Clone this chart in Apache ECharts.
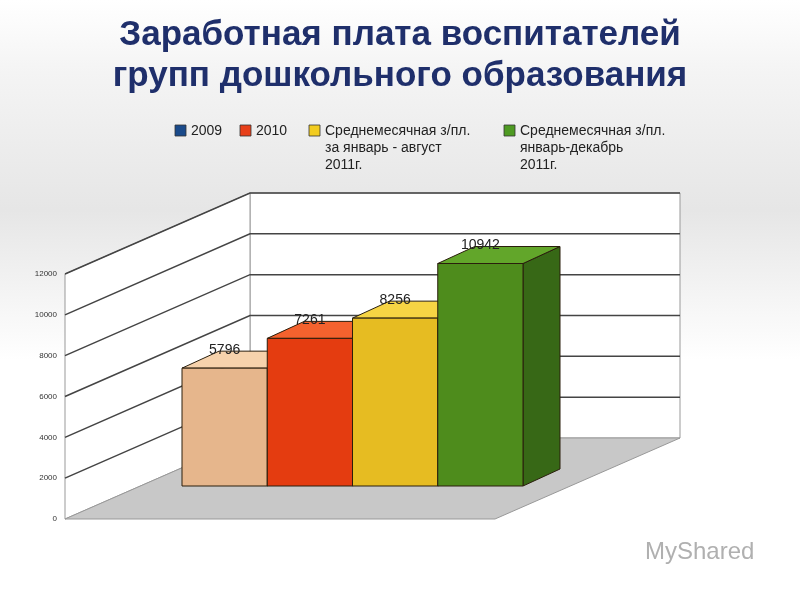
<!DOCTYPE html>
<html><head><meta charset="utf-8">
<script src="https://cdn.jsdelivr.net/npm/echarts@6/dist/echarts.min.js"></script>
<style>html,body{margin:0;padding:0;}#c{width:800px;height:600px;}</style>
</head><body><div id="c"></div>
<script>
const categories = ['2009', '2010', 'Среднемесячная з/пл. за январь - август 2011г.', 'Среднемесячная з/пл. январь-декабрь 2011г.'];
const values = [5796, 7261, 8256, 10942];
const axisTicks = [0, 2000, 4000, 6000, 8000, 10000, 12000];
const legendLabels = ['2009', '2010', 'Среднемесячная з/пл.\nза январь - август\n2011г.', 'Среднемесячная з/пл.\nянварь-декабрь\n2011г.'];
const legendColors = ['#1a4a8a', '#e8401a', '#f2cc20', '#4e9a22'];
const faces = [
  {front:'#e6b68c', top:'#f6d2ac', side:'#c8976c'},
  {front:'#e43c10', top:'#f4622e', side:'#b02a04'},
  {front:'#e6bc22', top:'#f6d444', side:'#bf9812'},
  {front:'#4e8c1c', top:'#62a62a', side:'#376816'}
];
const DX = 37, DY = -17;
const chart = echarts.init(document.getElementById('c'));
const legendX = [175, 240, 309, 504];
const graphic = [];
legendLabels.forEach((t, i) => {
  graphic.push({type:'rect', shape:{x:legendX[i], y:125, width:11, height:11}, style:{fill:legendColors[i], stroke:'#333', lineWidth:0.8}});
  graphic.push({type:'text', x:legendX[i]+16, y:123, style:{text:t, fill:'#222', font:'14px Arial', lineHeight:17}});
});
graphic.push({type:'text', x:645, y:540, style:{text:'MyShared', fill:'#b0b0b0', font:'24px Arial'}});
chart.setOption({
  backgroundColor: {type:'linear', x:0, y:0, x2:0, y2:1, colorStops:[{offset:0,color:'#ffffff'},{offset:0.12,color:'#f4f4f4'},{offset:0.35,color:'#e6e6e6'},{offset:0.6,color:'#ffffff'},{offset:1,color:'#ffffff'}]},
  title: {text:'Заработная плата воспитателей\nгрупп дошкольного образования', left:'center', top:10,
    textStyle:{color:'#1f2f6b', fontSize:35, fontWeight:'bold', fontFamily:'Arial', lineHeight:41}},
  graphic: graphic,
  grid: [
    {left:182, right:277, top:242, bottom:114},
    {left:65, right:120, top:274, bottom:81}
  ],
  xAxis: [
    {type:'category', data:categories, gridIndex:0, show:false},
    {type:'value', gridIndex:1, show:false, min:0, max:1}
  ],
  yAxis: [
    {type:'value', gridIndex:0, min:0, max:12000, show:false},
    {type:'value', gridIndex:1, min:0, max:12000, interval:2000, position:'left',
     axisLine:{show:false}, axisTick:{show:false}, splitLine:{show:false},
     axisLabel:{fontSize:8, color:'#333', fontFamily:'Arial', margin:8, formatter: v => String(v)}}
  ],
  series: [
    {type:'custom', xAxisIndex:1, yAxisIndex:1, z:1, data:axisTicks.map(v=>[0,v]),
     renderItem: function(params, api){
       const p = api.coord([0, api.value(1)]);
       const x0 = p[0], y = p[1];
       const bx = 250, by = y - 81, rx = 680;
       const children = [];
       if (params.dataIndex === 0) {
         const top = api.coord([0, 12000])[1];
         children.push({type:'polygon', shape:{points:[[bx,top-81],[rx,top-81],[rx,by],[bx,by]]}, style:{fill:'#ffffff', stroke:'#999', lineWidth:1}});
         children.push({type:'polygon', shape:{points:[[x0,top],[bx,top-81],[bx,by],[x0,y]]}, style:{fill:'#ffffff', stroke:'#999', lineWidth:1}});
         children.push({type:'polygon', shape:{points:[[x0,y],[bx,by],[rx,by],[rx-185,y]]}, style:{fill:'#c8c8c8', stroke:'#999', lineWidth:1}});
       } else {
         children.push({type:'polyline', shape:{points:[[x0,y],[bx,by],[rx,by]]}, style:{stroke:'#444', lineWidth:1.5, fill:null}});
       }
       return {type:'group', children:children};
     }},
    {type:'custom', xAxisIndex:0, yAxisIndex:0, z:3, data:values.map((v,i)=>[i,v]),
     renderItem: function(params, api){
       const i = api.value(0);
       const top = api.coord([i, api.value(1)]);
       const base = api.coord([i, 0]);
       const w = api.size([1, 0])[0];
       const l = top[0] - w/2, r = top[0] + w/2, t = top[1], b = base[1];
       const f = faces[params.dataIndex];
       const st = {stroke:'#2a1e0c', lineWidth:1};
       return {type:'group', children:[
         {type:'polygon', shape:{points:[[r,t],[r+DX,t+DY],[r+DX,b+DY],[r,b]]}, style:Object.assign({fill:f.side}, st)},
         {type:'polygon', shape:{points:[[l,t],[l+DX,t+DY],[r+DX,t+DY],[r,t]]}, style:Object.assign({fill:f.top}, st)},
         {type:'rect', shape:{x:l, y:t, width:w, height:b-t}, style:Object.assign({fill:f.front}, st)},
         {type:'text', x:top[0], y:t-18, style:{text:String(api.value(1)), fill:'#222', font:'14px Arial', align:'center', verticalAlign:'middle'}}
       ]};
     }}
  ]
});
</script></body></html>
